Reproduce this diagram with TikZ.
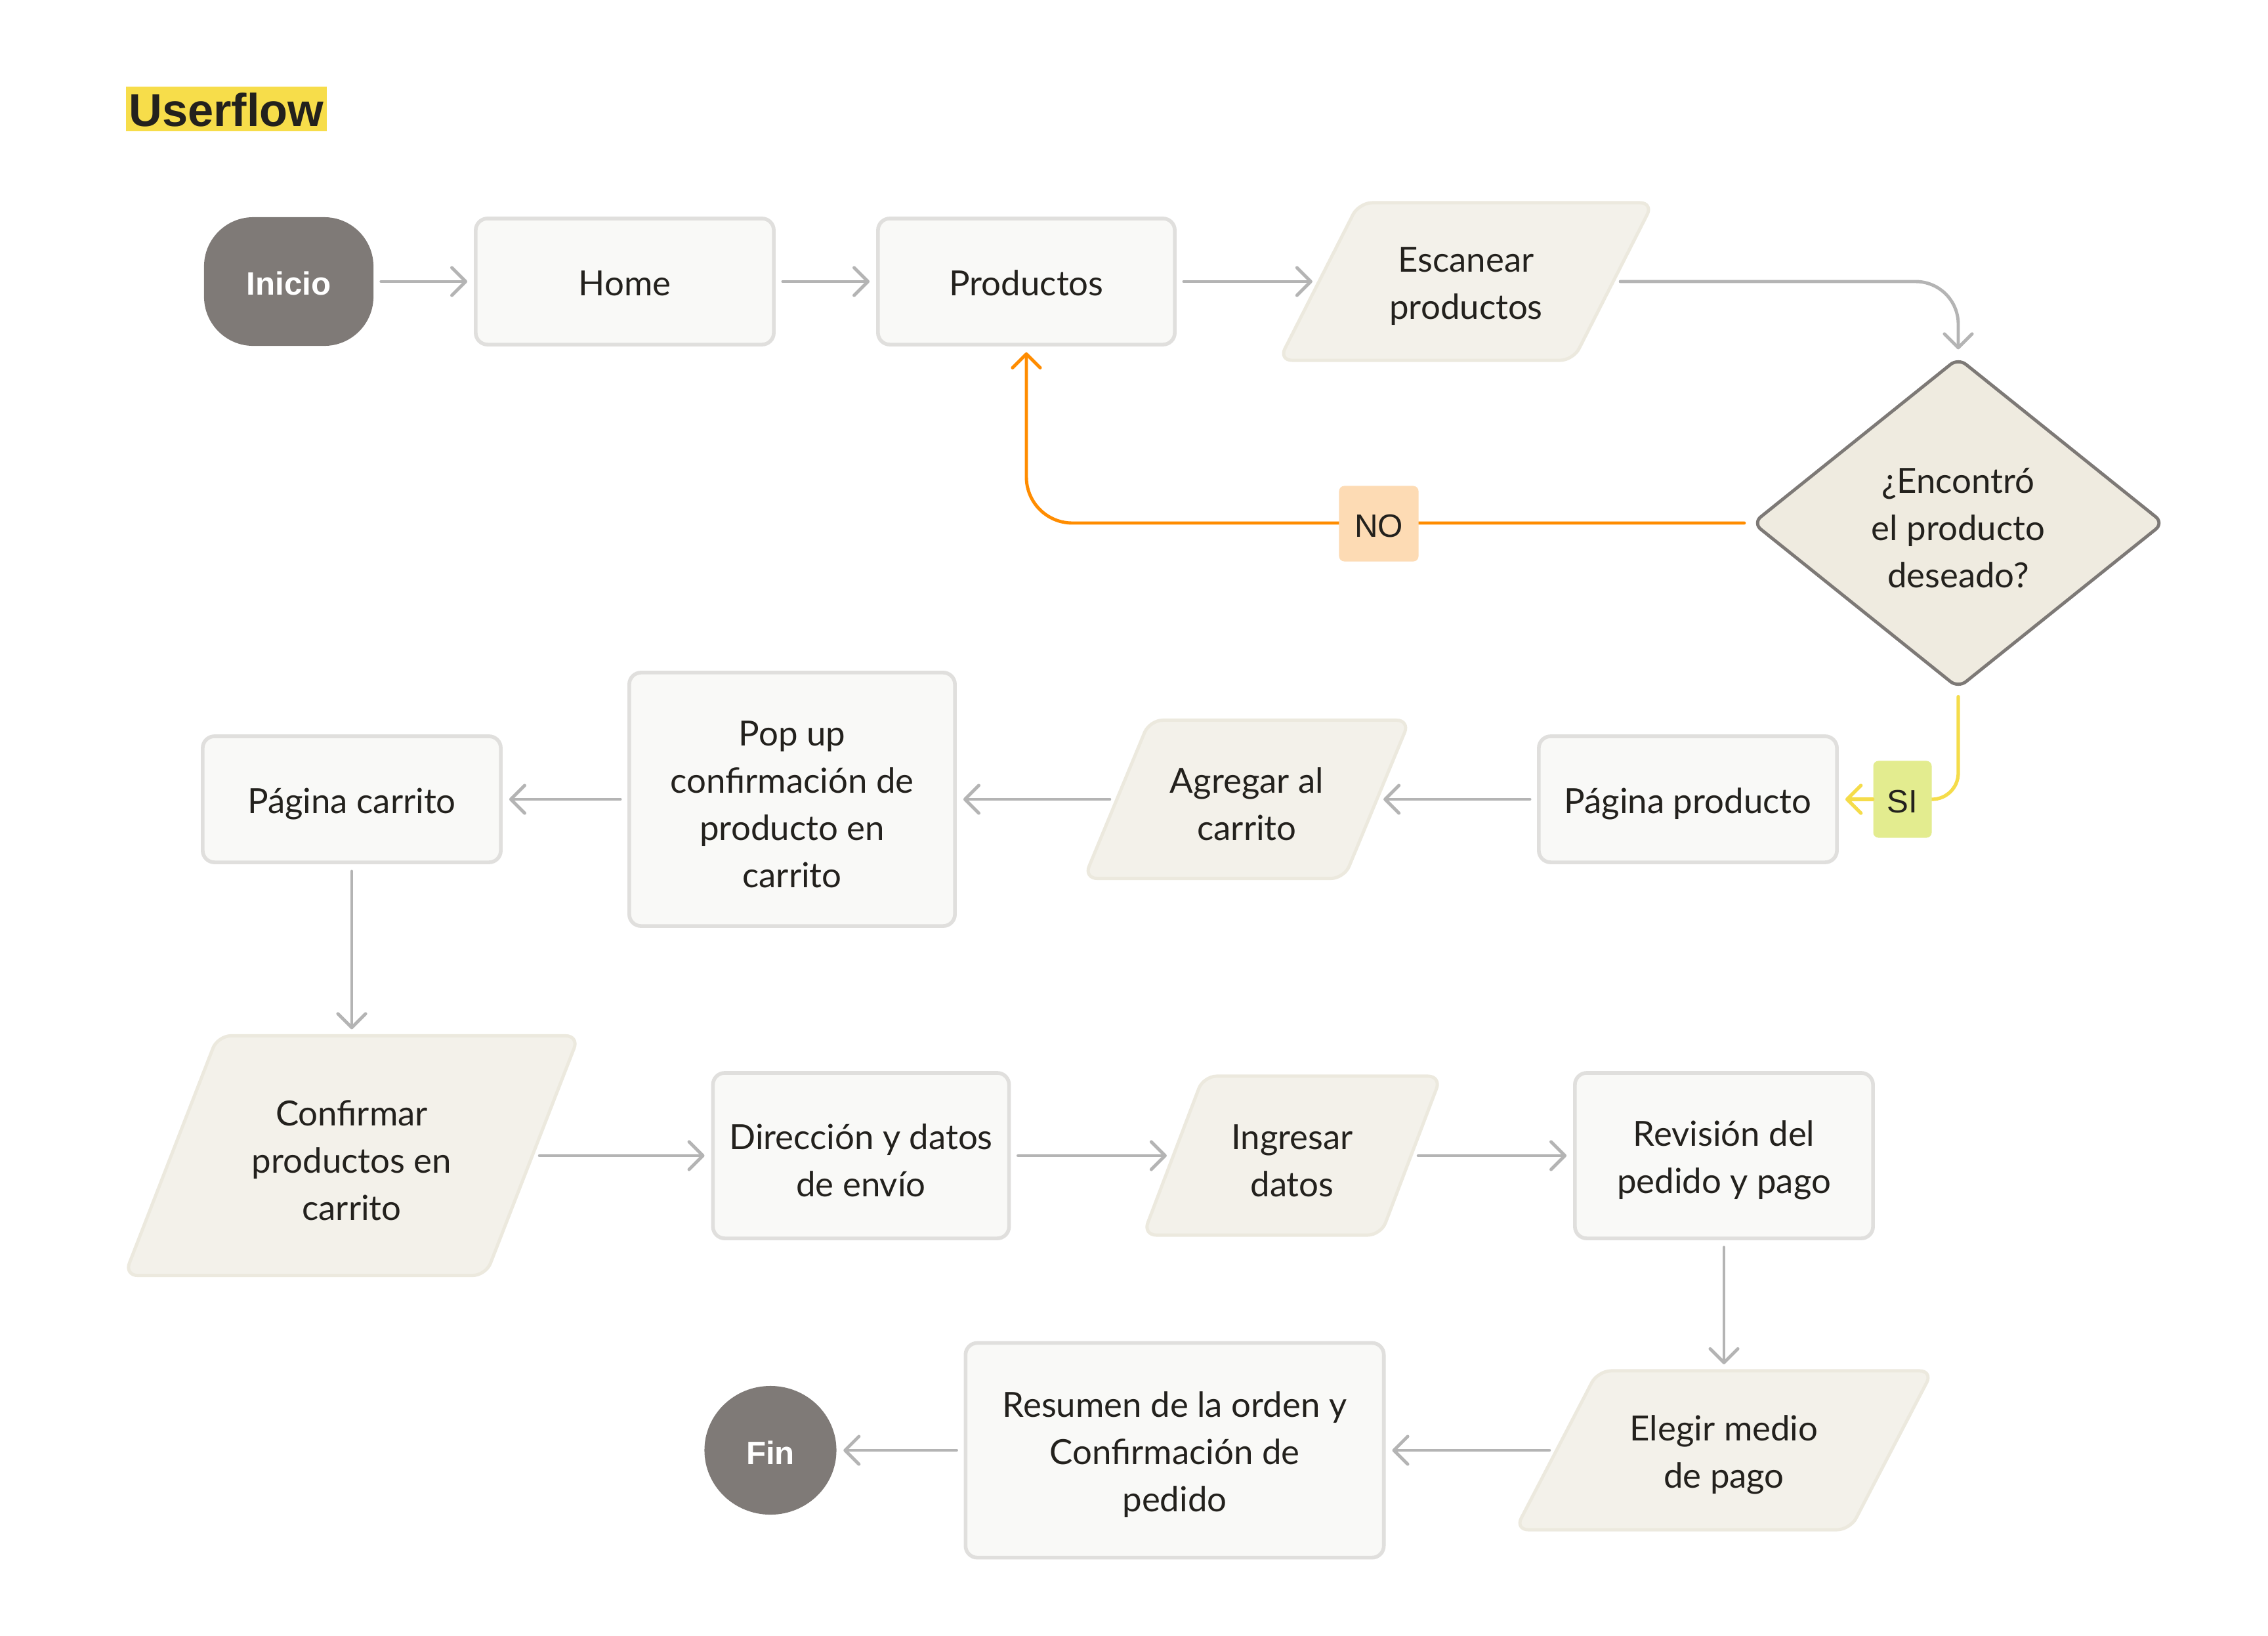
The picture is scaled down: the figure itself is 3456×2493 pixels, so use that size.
\documentclass[tikz,border=0pt]{standalone}
\usepackage{fontspec}
\setmainfont{Lato}
\newfontfamily\arialf{Liberation Sans}
\usetikzlibrary{arrows.meta,shapes.geometric,backgrounds,calc}
\definecolor{txt}{HTML}{23211D}
\definecolor{boxfill}{HTML}{F9F9F7}
\definecolor{boxline}{HTML}{E0DFDD}
\definecolor{parafill}{HTML}{F3F1EA}
\definecolor{paraline}{HTML}{ECE9DE}
\definecolor{decfill}{HTML}{EFEBE0}
\definecolor{decline}{HTML}{7D7976}
\definecolor{term}{HTML}{7F7A77}
\definecolor{arrgray}{HTML}{B4B4B4}
\definecolor{orng}{HTML}{FF8C00}
\definecolor{yel}{HTML}{F5DC4A}
\definecolor{nofill}{HTML}{FDDBB4}
\definecolor{sifill}{HTML}{E3EC8F}
\definecolor{hl}{HTML}{F7DD4A}
\newcommand\parashape[2]{%
  \draw[para] ($(#1.north west)+(#2,0)$) -- ($(#1.north east)+(#2,0)$) --
    ($(#1.south east)-(#2,0)$) -- ($(#1.south west)-(#2,0)$) -- cycle;}
\tikzset{
  base/.style={align=center, font=\fontsize{15}{20.5}\selectfont, text=txt, inner sep=0pt, text height=15pt},
  sline/.style={text depth=3pt},
  ltwo/.style={text height=35.5pt},
  lthree/.style={text height=56pt},
  lfour/.style={text height=76.5pt},
  box/.style={base, draw=boxline, fill=boxfill, line width=1.6pt, rounded corners=0.18cm},
  paranode/.style={base, outer sep=0pt},
  para/.style={draw=paraline, fill=parafill, line width=1.4pt, rounded corners=0.2cm},
  terminal/.style={fill=term, text=white, inner sep=0pt, text height=12pt, font=\arialf\bfseries\fontsize{14}{17}\selectfont},
  decision/.style={base, diamond, draw=decline, fill=decfill, line width=1.4pt, rounded corners=0.15cm},
  tag/.style={inner sep=0pt, rounded corners=0.08cm, text=txt, text height=12pt, font=\arialf\fontsize{14}{17}\selectfont},
  arr/.style={draw=arrgray, line width=1.4pt, line cap=round,
    -{Straight Barb[length=6pt,width=12pt,round]}, shorten <=0.11cm, shorten >=0.1cm},
  noline/.style={draw=orng, line width=1.4pt, line cap=round,
    -{Straight Barb[length=6pt,width=12pt,round]}, shorten <=0.1cm, shorten >=0.09cm},
  yline/.style={draw=yel, line width=1.5pt, line cap=round, shorten <=0.1cm},
  yarr/.style={draw=yel, line width=1.5pt, line cap=round,
    -{Straight Barb[length=6pt,width=12pt,round]}, shorten >=0.1cm}
}
\begin{document}
\begin{tikzpicture}[x=0.01cm, y=-0.01cm]
\useasboundingbox (0,0) rectangle (3456,2493);

% title
\node[fill=hl, inner sep=0pt, minimum width=3.06cm, minimum height=0.68cm, text=txt, text height=15.5pt,
  font=\arialf\bfseries\fontsize{20}{24}\selectfont] (title) at (345,166) {Userflow};

% row 1
\node[terminal, rounded corners=0.75cm, minimum width=2.58cm, minimum height=1.96cm] (inicio) at (440,429) {Inicio};
\node[box, sline, minimum width=4.54cm, minimum height=1.92cm] (home) at (952,429) {Home};
\node[box, sline, minimum width=4.52cm, minimum height=1.92cm] (prod) at (1564,429) {Productos};
\node[paranode, ltwo, minimum width=4.48cm, minimum height=2.40cm] (esc) at (2234,429) {Escanear\\productos};
\node[decision, lthree, minimum width=6.27cm, minimum height=5.04cm] (dec) at (2984,797) {¿Encontró\\el producto\\deseado?};

% row 2
\node[box, sline, minimum width=4.54cm, minimum height=1.92cm] (pprod) at (2572,1218) {Página producto};
\node[paranode, ltwo, minimum width=3.96cm, minimum height=2.41cm] (agr) at (1900,1218) {Agregar al\\carrito};
\node[box, lfour, minimum width=4.96cm, minimum height=3.86cm] (popup) at (1207,1218) {Pop up\\confirmación de\\producto en\\carrito};
\node[box, sline, minimum width=4.54cm, minimum height=1.92cm] (pcar) at (536,1218) {Página carrito};

% row 3
\node[paranode, lthree, minimum width=5.50cm, minimum height=3.65cm] (conf) at (536,1761) {Confirmar\\productos en\\carrito};
\node[box, ltwo, minimum width=4.51cm, minimum height=2.52cm] (dir) at (1312,1761) {Dirección y datos\\de envío};
\node[paranode, ltwo, minimum width=3.62cm, minimum height=2.42cm] (ing) at (1969,1761) {Ingresar\\datos};
\node[box, ltwo, minimum width=4.54cm, minimum height=2.52cm] (rev) at (2627,1761) {Revisión del\\pedido y pago};

% row 4
\node[paranode, ltwo, minimum width=5.10cm, minimum height=2.42cm] (eleg) at (2627,2210) {Elegir medio\\de pago};
\node[box, lthree, minimum width=6.37cm, minimum height=3.27cm] (res) at (1790,2210) {Resumen de la orden y\\Confirmación de\\pedido};
\node[terminal, ellipse, minimum width=2.01cm, minimum height=1.96cm] (fin) at (1174,2210) {Fin};

% page background and parallelogram outlines behind their texts
\begin{scope}[on background layer]
\fill[white] (0,0) rectangle (3456,2493);
\parashape{esc}{61}
\parashape{agr}{50}
\parashape{conf}{71}
\parashape{ing}{46}
\parashape{eleg}{63}
\end{scope}

% connectors
\draw[arr] (inicio) -- (home);
\draw[arr] (home) -- (prod);
\draw[arr] (prod) -- (esc);
\draw[arr, rounded corners=0.65cm] (esc.east) -| (dec.north);
\draw[noline, rounded corners=0.7cm] (dec.west) -| (prod.south);
\node[tag, fill=nofill, minimum width=1.21cm, minimum height=1.15cm] (no) at (2101,798) {NO};
\draw[yline, rounded corners=0.4cm] (dec.south) |- (2943,1218) coordinate (sie);
\node[tag, fill=sifill, minimum width=0.89cm, minimum height=1.17cm] (si) at (2899,1218) {SI};
\draw[yarr] (si.west) -- (pprod.east);
\draw[arr] (pprod) -- (agr);
\draw[arr] (agr) -- (popup);
\draw[arr] (popup) -- (pcar);
\draw[arr] (pcar) -- (conf);
\draw[arr] (conf) -- (dir);
\draw[arr] (dir) -- (ing);
\draw[arr] (ing) -- (rev);
\draw[arr] (rev) -- (eleg);
\draw[arr] (eleg) -- (res);
\draw[arr] (res) -- (fin);
\end{tikzpicture}
\end{document}
